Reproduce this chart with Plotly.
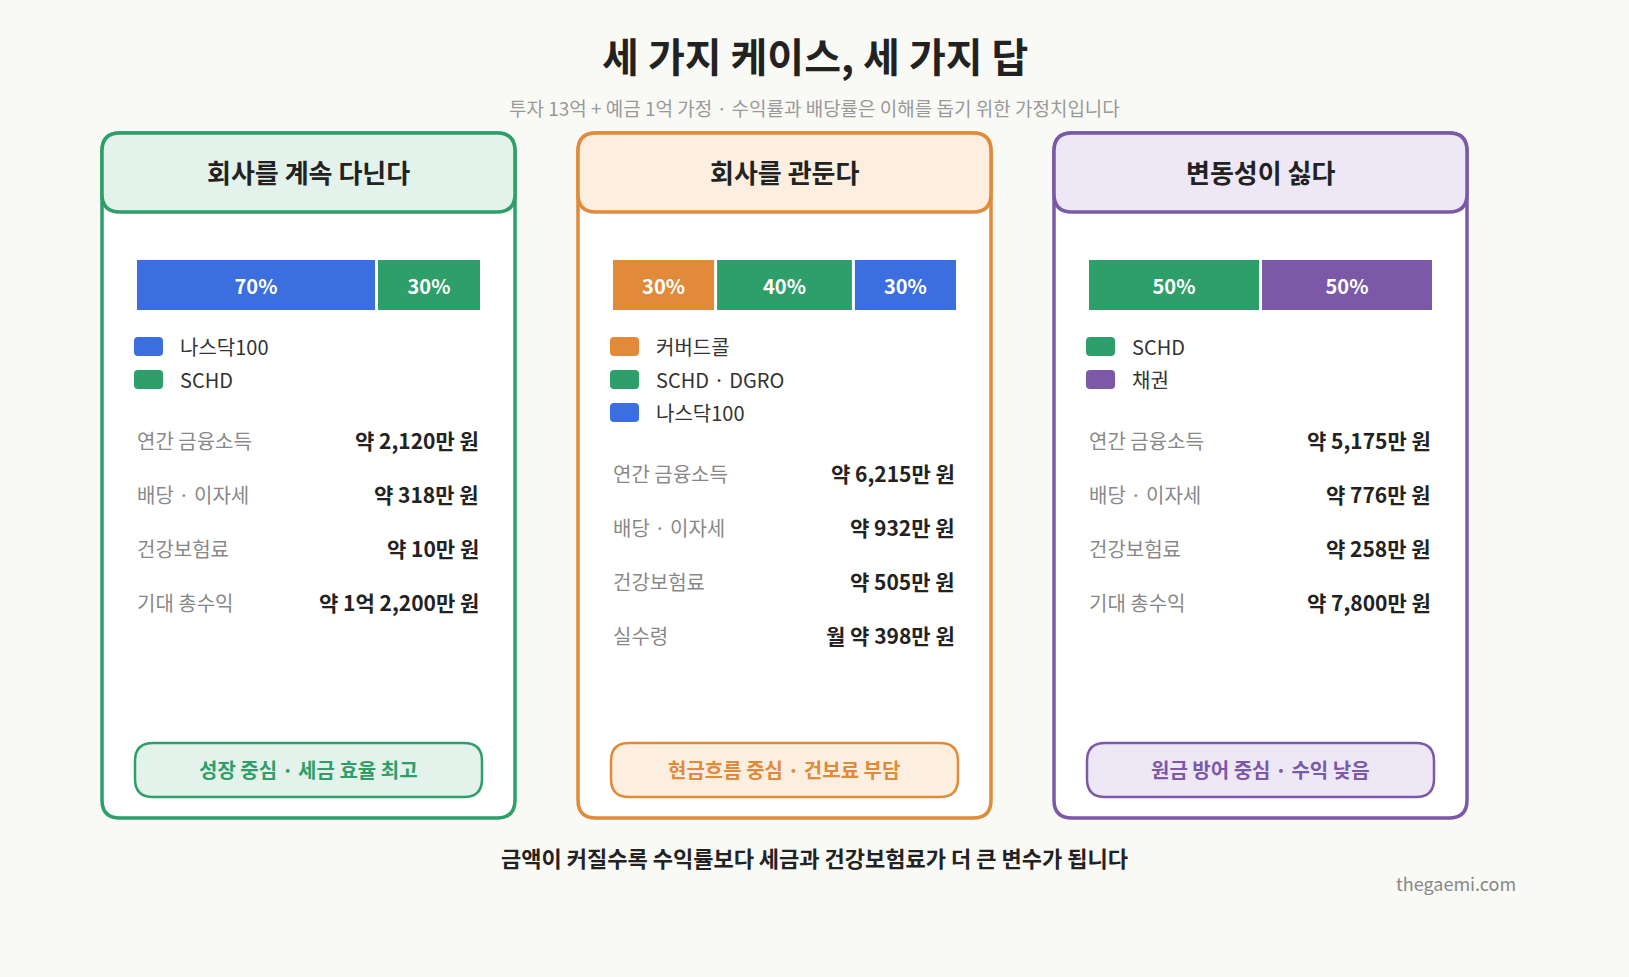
import plotly.graph_objects as go

W, H = 1629, 977
FONT = "Noto Sans CJK KR"

title = "세 가지 케이스, 세 가지 답"
subtitle = "투자 13억 + 예금 1억 가정 · 수익률과 배당률은 이해를 돕기 위한 가정치입니다"
footer = "금액이 커질수록 수익률보다 세금과 건강보험료가 더 큰 변수가 됩니다"
credit = "thegaemi.com"

card_titles = ["회사를 계속 다닌다", "회사를 관둔다", "변동성이 싫다"]
card_colors = ["#2e9e6a", "#e08a3a", "#7b59a8"]
card_fills = ["#e3f2ea", "#fcefe0", "#eee8f6"]
alloc_names = [["나스닥100", "SCHD"], ["커버드콜", "SCHD · DGRO", "나스닥100"], ["SCHD", "채권"]]
alloc_pcts = [[70, 30], [30, 40, 30], [50, 50]]
alloc_colors = [["#3b6fe0", "#2e9e6a"], ["#e08a3a", "#2e9e6a", "#3b6fe0"], ["#2e9e6a", "#7b59a8"]]
stat_labels = [["연간 금융소득", "배당 · 이자세", "건강보험료", "기대 총수익"],
               ["연간 금융소득", "배당 · 이자세", "건강보험료", "실수령"],
               ["연간 금융소득", "배당 · 이자세", "건강보험료", "기대 총수익"]]
stat_values = [["약 2,120만 원", "약 318만 원", "약 10만 원", "약 1억 2,200만 원"],
               ["약 6,215만 원", "약 932만 원", "약 505만 원", "월 약 398만 원"],
               ["약 5,175만 원", "약 776만 원", "약 258만 원", "약 7,800만 원"]]
pill_texts = ["성장 중심 · 세금 효율 최고", "현금흐름 중심 · 건보료 부담", "원금 방어 중심 · 수익 낮음"]


def rrect(x0, y0, x1, y1, r):
    return (f"M{x0+r},{y0} L{x1-r},{y0} Q{x1},{y0} {x1},{y0+r} L{x1},{y1-r} Q{x1},{y1} {x1-r},{y1} "
            f"L{x0+r},{y1} Q{x0},{y1} {x0},{y1-r} L{x0},{y0+r} Q{x0},{y0} {x0+r},{y0} Z")


fig = go.Figure()
shapes, ann = [], []

def text(x, y, s, size, color, bold=False, anchor="center"):
    ann.append(dict(x=x, y=y, text=f"<b>{s}</b>" if bold else s, showarrow=False,
                    xanchor=anchor, yanchor="middle", font=dict(family=FONT, size=size, color=color)))

text(W/2, 55, title, 40, "#222", True)
text(W/2, 107, subtitle, 19, "#999")
text(W/2, 857, footer, 22, "#222", True)
text(1518, 883, credit, 18, "#888", anchor="right")

card_x = [102, 578, 1054]
cw = 413
for i in range(3):
    x0 = card_x[i]; x1 = x0 + cw; c = card_colors[i]
    shapes.append(dict(type="path", path=rrect(x0, 133, x1, 818, 18), fillcolor="white",
                       line=dict(color=c, width=3.5), layer="below"))
    shapes.append(dict(type="path", path=rrect(x0, 133, x1, 212, 18), fillcolor=card_fills[i],
                       line=dict(color=c, width=3.5), layer="below"))
    text((x0+x1)/2, 171, card_titles[i], 26, "#222", True)
    bx0, bw, gap = x0 + 35, 343, 3
    total = sum(alloc_pcts[i])
    start = bx0
    n = len(alloc_pcts[i])
    usable = bw - gap*(n-1)
    for p, col in zip(alloc_pcts[i], alloc_colors[i]):
        w = usable * p / total
        fig.add_trace(go.Bar(x=[w], base=[start], y=[285], width=[50], orientation="h",
                             marker=dict(color=col, line=dict(width=0)),
                             text=[f"<b>{p}%</b>"], textposition="inside", insidetextanchor="middle",
                             textfont=dict(family=FONT, size=20, color="white"),
                             hoverinfo="skip", showlegend=False))
        start += w + gap
    for k, (nm, col) in enumerate(zip(alloc_names[i], alloc_colors[i])):
        yy = 346 + 33*k
        shapes.append(dict(type="path", path=rrect(x0+32, yy-9, x0+61, yy+10, 4), fillcolor=col,
                           line=dict(width=0)))
        text(x0+76, yy, nm, 20, "#333", anchor="left")
    sy = 346 + 33*len(alloc_names[i]) + 28
    for k, (lb, v) in enumerate(zip(stat_labels[i], stat_values[i])):
        yy = sy + 54*k
        text(x0+33, yy, lb, 20, "#888", anchor="left")
        text(x0+379, yy, v, 21, "#222", True, anchor="right")
    shapes.append(dict(type="path", path=rrect(x0+33, 743, x0+380, 797, 18), fillcolor=card_fills[i],
                       line=dict(color=c, width=2.5)))
    text(x0+206, 769, pill_texts[i], 20, c, True)

fig.update_layout(width=W, height=H, margin=dict(l=0, r=0, t=0, b=0),
                  paper_bgcolor="#f9f9f5", plot_bgcolor="#f9f9f5", barmode="overlay",
                  shapes=shapes, annotations=ann, showlegend=False,
                  xaxis=dict(range=[0, W], visible=False, fixedrange=True),
                  yaxis=dict(range=[H, 0], visible=False, fixedrange=True))
fig.write_html("out.html", config={"displayModeBar": False},
               post_script="document.body.style.margin='0';document.body.style.overflow='hidden';")
